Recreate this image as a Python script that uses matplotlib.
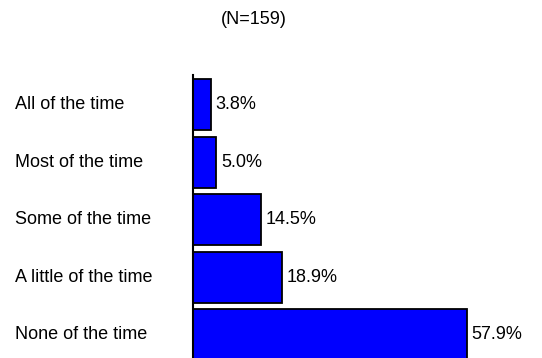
import matplotlib
matplotlib.use("Agg")
import matplotlib.pyplot as plt
from matplotlib.transforms import blended_transform_factory, offset_copy

plt.rcParams['font.family'] = ['Liberation Sans', 'DejaVu Sans']

categories = ["All of the time", "Most of the time", "Some of the time",
              "A little of the time", "None of the time"]
percentages = [3.8, 5.0, 14.5, 18.9, 57.9]
title = "(N=159)"

W, H = 542, 358
FS = 13
fig = plt.figure(figsize=(W / 100, H / 100), dpi=100)
left_px, top_px = 192.5, 75
ax = fig.add_axes([left_px / W, 0, 1 - left_px / W, 1 - top_px / H])

ypos = list(range(len(categories)))
ax.barh(ypos, percentages, height=0.887, color="#0000FF",
        edgecolor="black", linewidth=1.3, zorder=2)

ax.set_xlim(0, (W - left_px) / 4.74)
ax.set_ylim(4.4, -0.52)

for sp in ("top", "right", "bottom"):
    ax.spines[sp].set_visible(False)
ax.spines["left"].set_linewidth(1.5)
ax.spines["left"].set_zorder(3)
ax.set_xticks([])
ax.set_yticks([])

# category labels, left-aligned near the figure edge
label_tr = blended_transform_factory(fig.transFigure, ax.transData)
for y, cat in zip(ypos, categories):
    ax.text(15 / W, y, cat, transform=label_tr, ha="left", va="center",
            fontsize=FS, color="black", clip_on=False)

# value labels just past each bar end
val_tr = offset_copy(ax.transData, fig=fig, x=3.5, y=0, units="points")
for y, v in zip(ypos, percentages):
    ax.text(v, y, f"{v:.1f}%", transform=val_tr, ha="left", va="center",
            fontsize=FS, color="black", clip_on=False)

fig.text(254 / W, 1 - 19 / H, title, ha="center", va="center",
         fontsize=FS, color="black")

fig.savefig("out.png", dpi=100)
